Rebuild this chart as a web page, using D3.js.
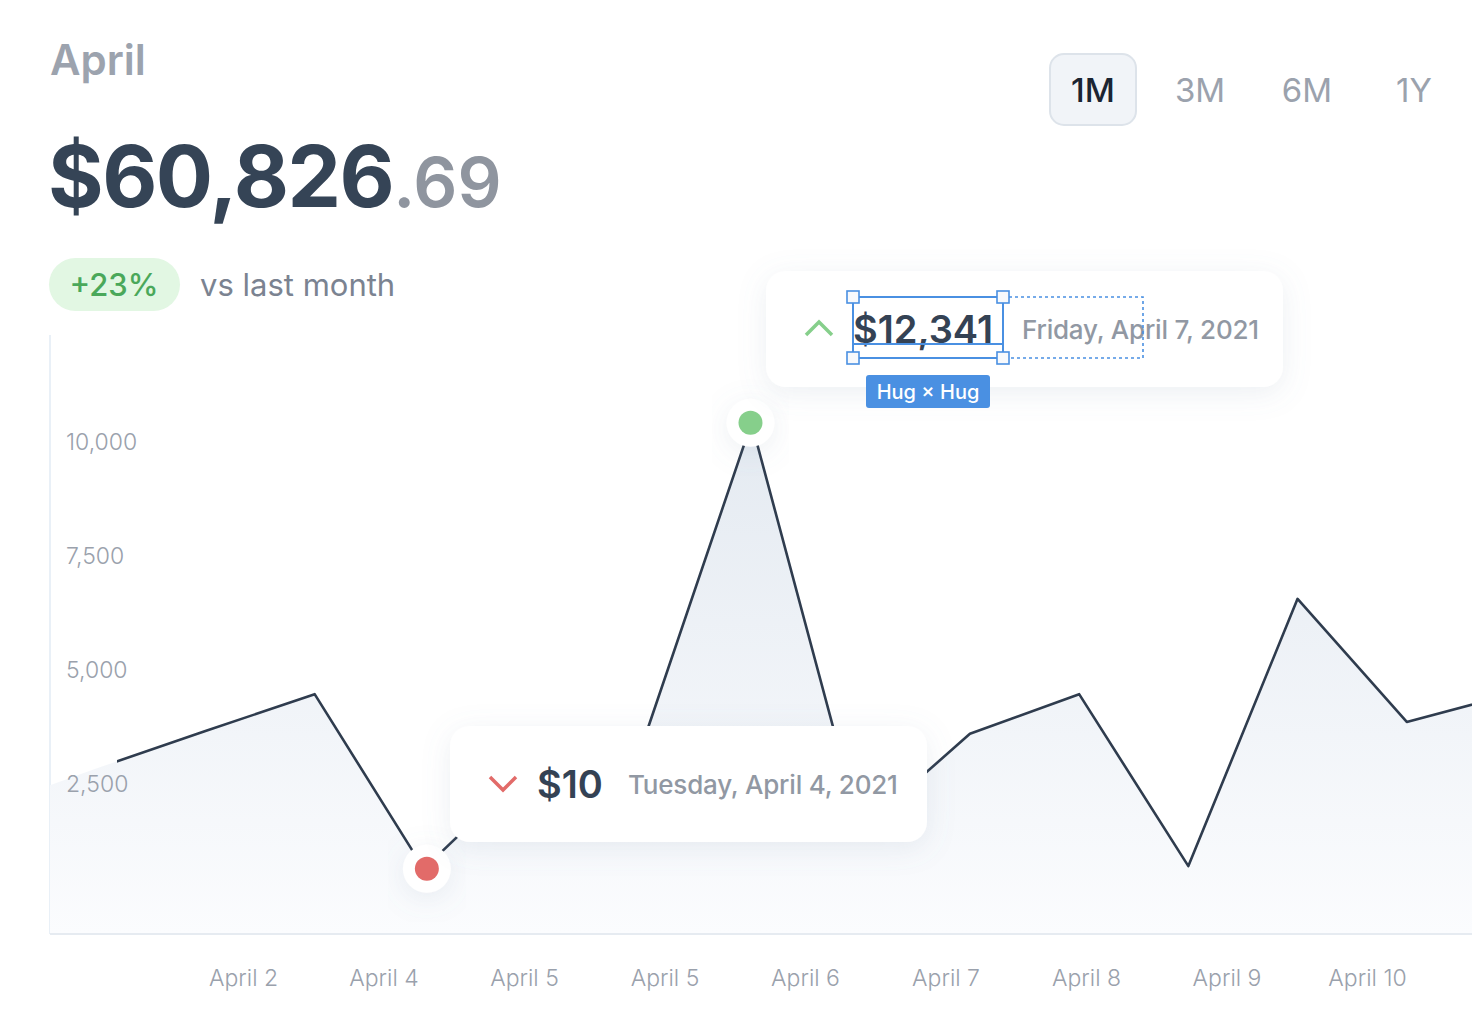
<!DOCTYPE html>
<html>
<head>
<meta charset="utf-8">
<script src="https://cdn.jsdelivr.net/npm/d3@7"></script>
<style>
  body { margin: 0; background: #fff; }
  svg { display: block; font-family: Inter, "Noto Sans", sans-serif; }
</style>
</head>
<body>
<div id="chart"></div>
<script>
// data
const days = [0, 1, 2, 3, 4, 5, 6, 7, 8, 9, 10, 11, 12, 13, 14];
const values = [1970, 2840, 3660, 4470, 640, 2940, 3360, 10420, 1490, 3600, 4470, 700, 6560, 3860, 4500];
const yTicks = [2500, 5000, 7500, 10000];
const xTickLabels = ["April 2", "April 4", "April 5", "April 5", "April 6", "April 7", "April 8", "April 9", "April 10"];
const ranges = ["1M", "3M", "6M", "1Y"];
const lowPoint = { day: 4, amount: "$10", date: "Tuesday, April 4, 2021" };
const highPoint = { day: 7, amount: "$12,341", date: "Friday, April 7, 2021" };

const W = 1472, H = 1034;
const plot = { left: 50, right: 1472, top: 335, bottom: 934 };

const svg = d3.select("#chart").append("svg")
    .attr("width", W)
    .attr("height", H);

const defs = svg.append("defs");

// soft shadow for cards and dots
const shadow = defs.append("filter")
    .attr("id", "shadow")
    .attr("x", "-30%").attr("y", "-60%")
    .attr("width", "160%").attr("height", "220%");
shadow.append("feDropShadow")
    .attr("dx", 0).attr("dy", 6)
    .attr("stdDeviation", 14)
    .attr("flood-color", "#7d8ea5")
    .attr("flood-opacity", 0.14);

const grad = defs.append("linearGradient")
    .attr("id", "areaFill")
    .attr("gradientUnits", "userSpaceOnUse")
    .attr("x1", 0).attr("x2", 0)
    .attr("y1", 423).attr("y2", plot.bottom);
grad.append("stop").attr("offset", "0%").attr("stop-color", "#e4eaf1");
grad.append("stop").attr("offset", "100%").attr("stop-color", "#fbfcfe");

defs.append("clipPath").attr("id", "plotClip")
    .append("rect")
    .attr("x", plot.left).attr("y", 0)
    .attr("width", plot.right - plot.left).attr("height", plot.bottom);

// the line is hidden behind the first y label in the design
defs.append("clipPath").attr("id", "lineClip")
    .append("rect")
    .attr("x", 117).attr("y", 0)
    .attr("width", plot.right - 117).attr("height", plot.bottom);

// scales
const x = d3.scaleLinear()
    .domain([0, 14])
    .range([-13, 1516]);

const y = d3.scaleLinear()
    .domain([0, 10000])
    .range([898, 442]);

const xTick = d3.scalePoint()
    .domain(d3.range(xTickLabels.length))
    .range([243, 1367]);

// header
svg.append("text")
    .attr("x", 50).attr("y", 75)
    .style("font-size", "42px")
    .style("font-weight", 600)
    .style("fill", "#9ca3ae")
    .text("April");

const total = svg.append("text")
    .attr("x", 48).attr("y", 207)
    .style("font-weight", 700)
    .style("fill", "#354456");
total.append("tspan").style("font-size", "85px").style("letter-spacing", "-1.5px").text("$60,826");
total.append("tspan").style("font-size", "69px").style("fill", "#8f959f").style("font-weight", 600).text(".69");

svg.append("rect")
    .attr("x", 49).attr("y", 258)
    .attr("width", 131).attr("height", 53)
    .attr("rx", 26.5)
    .style("fill", "#e2f7e3");
svg.append("text")
    .attr("x", 114).attr("y", 296)
    .attr("text-anchor", "middle")
    .style("font-size", "31px")
    .style("font-weight", 500)
    .style("fill", "#4aa85a")
    .text("+23%");
svg.append("text")
    .attr("x", 200).attr("y", 296)
    .style("font-size", "31px")
    .style("fill", "#7b8391")
    .text("vs last month");

// range buttons
svg.append("rect")
    .attr("x", 1050).attr("y", 54)
    .attr("width", 86).attr("height", 71)
    .attr("rx", 14)
    .style("fill", "#f1f4f8")
    .style("stroke", "#dde3ea")
    .style("stroke-width", 2);
svg.selectAll(".range")
    .data(ranges)
    .join("text")
    .attr("class", "range")
    .attr("x", (d, i) => 1093 + i * 107)
    .attr("y", 102)
    .attr("text-anchor", "middle")
    .style("font-size", "33px")
    .style("font-weight", (d, i) => i === 0 ? 500 : 400)
    .style("fill", (d, i) => i === 0 ? "#1b2432" : "#9ba2ad")
    .text(d => d);

// axes lines
svg.append("line")
    .attr("x1", plot.left).attr("x2", plot.left)
    .attr("y1", plot.top).attr("y2", plot.bottom)
    .style("stroke", "#e9f0f7")
    .style("stroke-width", 2);

// area + line
const series = days.map((d, i) => ({ day: d, value: values[i] }));

const area = d3.area()
    .x(d => x(d.day))
    .y0(plot.bottom)
    .y1(d => y(d.value));

const line = d3.line()
    .x(d => x(d.day))
    .y(d => y(d.value));

svg.append("path")
    .datum(series)
    .attr("clip-path", "url(#plotClip)")
    .attr("d", area)
    .style("fill", "url(#areaFill)");

svg.append("line")
    .attr("x1", plot.left).attr("x2", plot.right)
    .attr("y1", plot.bottom).attr("y2", plot.bottom)
    .style("stroke", "#e6ebf1")
    .style("stroke-width", 2);

svg.append("path")
    .datum(series)
    .attr("clip-path", "url(#lineClip)")
    .attr("d", line)
    .style("fill", "none")
    .style("stroke", "#2f3c4e")
    .style("stroke-width", 2.6)
    .style("stroke-linejoin", "round");

// y axis labels
const yAxis = svg.append("g")
    .attr("transform", "translate(66,0)")
    .call(d3.axisLeft(y).tickValues(yTicks).tickSize(0).tickFormat(d3.format(",")));
yAxis.select(".domain").remove();
yAxis.selectAll("text")
    .attr("x", 0)
    .attr("text-anchor", "start")
    .style("font-family", "Inter, sans-serif")
    .style("font-size", "23px")
    .style("font-weight", 300)
    .style("fill", "#9aa1ac");

// x axis labels
const xAxis = svg.append("g")
    .attr("transform", "translate(0,962)")
    .call(d3.axisBottom(xTick).tickSize(0).tickPadding(8).tickFormat(i => xTickLabels[i]));
xAxis.select(".domain").remove();
xAxis.selectAll("text")
    .style("font-family", "Inter, sans-serif")
    .style("font-size", "23px")
    .style("font-weight", 300)
    .style("fill", "#9aa1ac");

// highlighted points
const marks = [
    { p: lowPoint, color: "#e26b69", dx: 3 },
    { p: highPoint, color: "#86cf8b", dx: -1 }
];
const dots = svg.selectAll(".dot")
    .data(marks)
    .join("g")
    .attr("class", "dot")
    .attr("transform", d => `translate(${x(d.p.day) + d.dx},${y(values[d.p.day])})`);
dots.append("circle")
    .attr("r", 24)
    .attr("filter", "url(#shadow)")
    .style("fill", "#fff");
dots.append("circle")
    .attr("r", 12)
    .style("fill", d => d.color);

// tooltip cards
function card(left, topY, width, p, up) {
    const g = svg.append("g").attr("transform", `translate(${left},${topY})`);
    g.append("rect")
        .attr("width", width).attr("height", 116)
        .attr("rx", 20)
        .attr("filter", "url(#shadow)")
        .style("fill", "#fff");
    const cx = 53;
    g.append("path")
        .attr("d", up ? `M${cx - 13},${64} L${cx},${51} L${cx + 13},${64}` : `M${cx - 13},${51} L${cx},${64} L${cx + 13},${51}`)
        .style("fill", "none")
        .style("stroke", up ? "#86cf8b" : "#e26b69")
        .style("stroke-width", 3.5);
    g.append("text")
        .attr("x", 87).attr("y", 72)
        .style("font-size", "38px")
        .style("font-weight", 600)
        .style("fill", "#344254")
        .text(p.amount);
    g.append("text")
        .attr("x", up ? 256 : 178).attr("y", 68)
        .style("font-size", "26px")
        .style("font-weight", 500)
        .style("letter-spacing", "-0.2px")
        .style("fill", "#9198a3")
        .text(p.date);
    return g;
}

card(450, 726, 477, lowPoint, false);
const topCard = card(766, 271, 517, highPoint, true);

// selection overlay (design tool) on the top card
const sel = topCard.append("g").attr("transform", "translate(87,26)");
sel.append("rect")
    .attr("x", 0).attr("y", 0)
    .attr("width", 290).attr("height", 61)
    .style("fill", "none")
    .style("stroke", "#4a90e2")
    .style("stroke-width", 1.6)
    .style("stroke-dasharray", "3,3");
sel.append("rect")
    .attr("x", 0).attr("y", 0)
    .attr("width", 150).attr("height", 61)
    .style("fill", "none")
    .style("stroke", "#4a90e2")
    .style("stroke-width", 2);
sel.append("line")
    .attr("x1", 0).attr("x2", 150)
    .attr("y1", 47).attr("y2", 47)
    .style("stroke", "#4a90e2")
    .style("stroke-width", 2);
sel.selectAll(".handle")
    .data([[0, 0], [150, 0], [0, 61], [150, 61]])
    .join("rect")
    .attr("class", "handle")
    .attr("x", d => d[0] - 6).attr("y", d => d[1] - 6)
    .attr("width", 12).attr("height", 12)
    .style("fill", "#f7f9fc")
    .style("stroke", "#4a90e2")
    .style("stroke-width", 1.6);
sel.append("rect")
    .attr("x", 13).attr("y", 78)
    .attr("width", 124).attr("height", 33)
    .attr("rx", 3)
    .style("fill", "#4a90e2");
sel.append("text")
    .attr("x", 75).attr("y", 102)
    .attr("text-anchor", "middle")
    .style("font-size", "20px")
    .style("font-weight", 500)
    .style("fill", "#fff")
    .text("Hug × Hug");
</script>
</body>
</html>
